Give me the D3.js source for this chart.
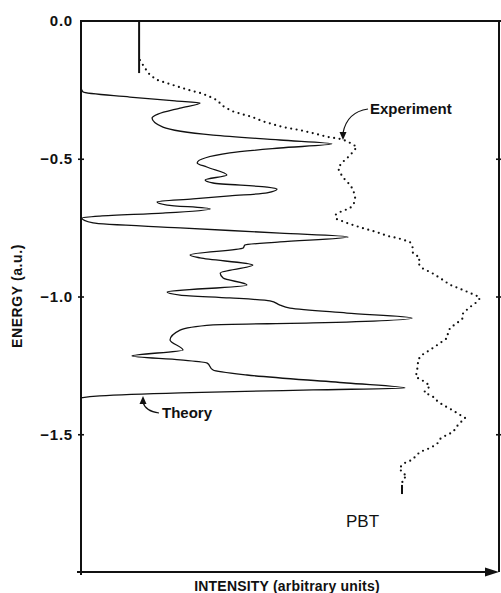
<!DOCTYPE html>
<html>
<head>
<meta charset="utf-8">
<script src="https://cdn.jsdelivr.net/npm/d3@7"></script>
<style>
  body { margin: 0; background: #fff; }
  text { font-family: "Liberation Sans", Arial, Helvetica, sans-serif; fill: #111; }
</style>
</head>
<body>
<svg width="501" height="593"></svg>
<script>
// theory curve: energy (a.u.) and intensity (arbitrary units, 0-100)
let theoryEnergy = [-0.243, -0.258, -0.276, -0.290, -0.298, -0.316, -0.338, -0.352, -0.385, -0.414, -0.432, -0.446, -0.461, -0.479,
    -0.515, -0.530, -0.559, -0.577, -0.588, -0.603, -0.610, -0.624, -0.635, -0.646, -0.657, -0.668, -0.682, -0.697, -0.708, -0.715,
    -0.733, -0.751, -0.770, -0.784, -0.802, -0.813, -0.824, -0.849, -0.860, -0.886, -0.915, -0.933, -0.958, -0.984, -0.995, -1.005,
    -1.016, -1.031, -1.042, -1.060, -1.078, -1.096, -1.103, -1.122, -1.158, -1.194, -1.216, -1.230, -1.241, -1.267, -1.285, -1.314,
    -1.332, -1.339, -1.350, -1.361, -1.368]
let theoryIntensity = [0, 0.5, 11.7, 22.5, 28.5, 23.7, 18.4, 17.0, 19.6, 31.6, 47.6, 60.0, 47.6, 35.6,
    27.8, 30.1, 34.9, 29.7, 31.6, 44.5, 46.9, 44.5, 35.6, 26.8, 18.2, 20.6, 30.9, 19.6, 4.5, 0.2,
    2.9, 23.7, 47.6, 63.9, 47.6, 39.2, 38.8, 26.1, 28.5, 41.1, 33.3, 34.0, 39.7, 20.6, 23.7, 35.6,
    45.2, 47.6, 50.0, 63.6, 79.2, 55.5, 31.6, 23.7, 21.3, 24.4, 12.2, 23.7, 30.1, 31.6, 39.7, 63.6,
    77.5, 55.5, 23.7, 4.5, 0]

// experiment (dotted)
let expEnergy = [-0.142, -0.171, -0.196, -0.214, -0.229, -0.243, -0.254, -0.261, -0.272, -0.287, -0.309, -0.327, -0.338, -0.348,
    -0.363, -0.374, -0.385, -0.396, -0.407, -0.421, -0.428, -0.436, -0.446, -0.457, -0.475, -0.494, -0.515, -0.534, -0.552, -0.577,
    -0.595, -0.613, -0.639, -0.661, -0.679, -0.693, -0.704, -0.719, -0.733, -0.751, -0.759, -0.770, -0.780, -0.788, -0.802, -0.824,
    -0.842, -0.860, -0.878, -0.897, -0.915, -0.940, -0.958, -0.969, -0.984, -0.998, -1.005, -1.020, -1.038, -1.060, -1.078, -1.096,
    -1.114, -1.132, -1.151, -1.169, -1.194, -1.212, -1.230, -1.249, -1.267, -1.292, -1.310, -1.325, -1.347, -1.368, -1.379, -1.394,
    -1.412, -1.430, -1.441, -1.466, -1.492, -1.506, -1.517, -1.535, -1.550, -1.564, -1.593, -1.604, -1.623, -1.641, -1.652, -1.662,
    -1.681, -1.702]
let expIntensity = [14.1, 15.3, 16.5, 18.2, 21.3, 24.2, 26.6, 28.5, 30.4, 32.5, 34.0, 36.1, 38.5, 40.9,
    43.3, 45.7, 48.3, 52.4, 55.5, 59.1, 62.0, 63.6, 64.8, 66.0, 65.1, 63.9, 62.4, 61.5, 62.0, 63.2,
    64.4, 65.1, 65.6, 65.3, 64.4, 62.0, 60.8, 61.2, 63.6, 67.2, 69.1, 71.5, 73.2, 75.8, 78.7, 79.4,
    79.4, 81.1, 80.6, 81.6, 84.0, 86.6, 88.3, 90.2, 92.6, 94.7, 95.5, 94.7, 93.1, 91.4, 91.4, 90.0,
    88.3, 87.8, 87.6, 85.9, 83.5, 81.6, 80.6, 80.6, 80.4, 80.1, 82.3, 83.5, 82.1, 84.7, 85.2, 86.6,
    88.8, 90.7, 91.9, 90.2, 89.0, 87.1, 85.9, 85.2, 83.5, 81.1, 79.2, 77.5, 76.1, 77.0, 78.0, 77.0,
    76.8, 76.8]
// solid bars at start and end of the experimental trace
let expStartBar = { intensity: 13.9, energy: [0, -0.189] }
let expEndBar = { intensity: 76.8, energy: [-1.684, -1.717] }

let yTicks = [0, -0.5, -1.0, -1.5]

let svg = d3.select('svg')
let x = d3.scaleLinear().domain([0, 100]).range([81, 499])
let y = d3.scaleLinear().domain([0, -2]).range([21, 572])

let theory = theoryEnergy.map((e, i) => ({ e: e, v: theoryIntensity[i] }))
let experiment = expEnergy.map((e, i) => ({ e: e, v: expIntensity[i] }))

// frame
svg.append('path')
    .attr('d', `M${x(0)},${y(-2) + 3}V${y(0)}H${x(100) + 2}M${x(100)},${y(0)}V${y(-2)}`)
    .attr('fill', 'none').attr('stroke', '#111').attr('stroke-width', 2)
svg.append('line')
    .attr('x1', x(0) - 4).attr('x2', x(100) - 8)
    .attr('y1', y(-2)).attr('y2', y(-2))
    .attr('stroke', '#111').attr('stroke-width', 2)
svg.append('path')
    .attr('d', `M${x(100)},${y(-2)}l-14,-4.5v9z`)
    .attr('fill', '#111')

let yAxis = svg.append('g')
    .attr('transform', `translate(${x(0)},0)`)
    .call(d3.axisLeft(y).tickValues(yTicks).tickFormat(d3.format('.1f')).tickSize(3).tickPadding(5))
yAxis.select('.domain').remove()
yAxis.selectAll('.tick line').attr('x1', 3).attr('stroke', '#111').attr('stroke-width', 1.6)
    .filter(d => d === 0).remove()
yAxis.selectAll('.tick text')
    .style('font-size', '15px').style('font-weight', 'bold').style('letter-spacing', '0.8px')
    .attr('fill', '#111')

let rAxis = svg.append('g')
    .attr('transform', `translate(${x(100)},0)`)
    .call(d3.axisLeft(y).tickValues(yTicks.slice(1)).tickFormat('').tickSize(3))
rAxis.select('.domain').remove()
rAxis.selectAll('.tick line').attr('x1', 2).attr('stroke', '#111').attr('stroke-width', 1.6)

// theory
let line = d3.line().x(d => x(d.v)).y(d => y(d.e)).curve(d3.curveMonotoneY)
svg.append('path')
    .datum(theory)
    .attr('d', line)
    .attr('fill', 'none').attr('stroke', '#111').attr('stroke-width', 1.3)

// experiment
svg.append('path')
    .datum(experiment)
    .attr('d', d3.line().x(d => x(d.v)).y(d => y(d.e)))
    .attr('fill', 'none').attr('stroke', '#111').attr('stroke-width', 2.2)
    .attr('stroke-linecap', 'round').attr('stroke-dasharray', '0,5.5')
;[expStartBar, expEndBar].forEach(b => {
    svg.append('line')
        .attr('x1', x(b.intensity)).attr('x2', x(b.intensity))
        .attr('y1', y(b.energy[0])).attr('y2', y(b.energy[1]))
        .attr('stroke', '#111').attr('stroke-width', 2)
})

// labels
svg.append('text')
    .attr('transform', 'translate(22,296) rotate(-90)')
    .attr('text-anchor', 'middle')
    .style('font-size', '14px').style('font-weight', 'bold').style('letter-spacing', '0.6px')
    .text('ENERGY (a.u.)')
svg.append('text')
    .attr('x', 287).attr('y', 591)
    .attr('text-anchor', 'middle')
    .style('font-size', '14px').style('font-weight', 'bold').style('letter-spacing', '0.2px')
    .text('INTENSITY (arbitrary units)')
svg.append('text')
    .attr('x', 346).attr('y', 527)
    .style('font-size', '17px')
    .text('PBT')

svg.append('text')
    .attr('x', 370).attr('y', 114)
    .style('font-size', '15px').style('font-weight', 'bold')
    .text('Experiment')
svg.append('path')
    .attr('d', 'M368,109Q347,112,343,133')
    .attr('fill', 'none').attr('stroke', '#111').attr('stroke-width', 1.2)
svg.append('path')
    .attr('d', 'M343,140l-3.5,-8h7z')
    .attr('fill', '#111')

svg.append('text')
    .attr('x', 162).attr('y', 418)
    .style('font-size', '15px').style('font-weight', 'bold')
    .text('Theory')
svg.append('path')
    .attr('d', 'M159,413Q145,411,143,402')
    .attr('fill', 'none').attr('stroke', '#111').attr('stroke-width', 1.2)
svg.append('path')
    .attr('d', 'M143,396l-3.5,8h7z')
    .attr('fill', '#111')
</script>
</body>
</html>
